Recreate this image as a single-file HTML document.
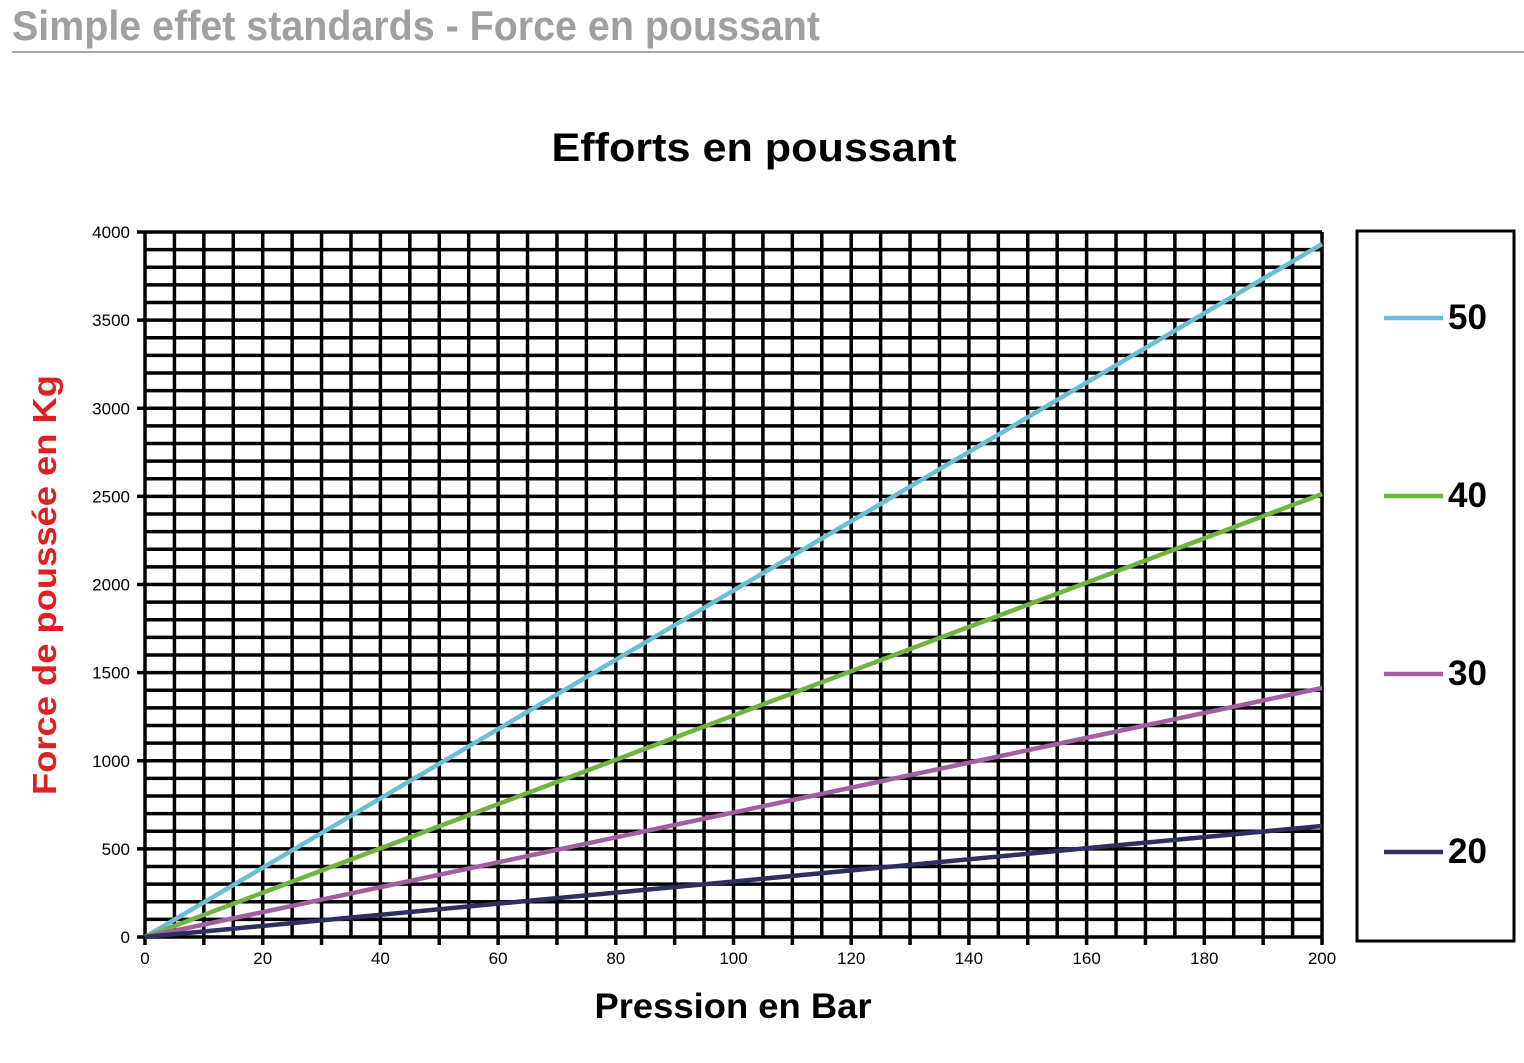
<!DOCTYPE html><html><head><meta charset="utf-8"><style>body{margin:0;background:#fff}svg{display:block}</style></head><body>
<svg width="1524" height="1063" xmlns="http://www.w3.org/2000/svg" font-family="Liberation Sans, Arial, sans-serif">
<text x="12" y="40" font-size="42" font-weight="bold" fill="#a0a0a0" textLength="808" lengthAdjust="spacingAndGlyphs">Simple effet standards - Force en poussant</text>
<line x1="12" y1="52" x2="1524" y2="52" stroke="#a8a8a8" stroke-width="2"/>
<text x="754" y="161" font-size="40" font-weight="bold" text-anchor="middle" textLength="405" lengthAdjust="spacingAndGlyphs">Efforts en poussant</text>
<g id="grid" stroke="#000" stroke-width="3.5"></g>
<g id="labels" font-size="17"></g>
<text transform="translate(56,585) rotate(-90)" font-size="33" font-weight="bold" fill="#e02020" text-anchor="middle" textLength="420" lengthAdjust="spacingAndGlyphs">Force de poussée en Kg</text>
<text x="733" y="1018" font-size="35" font-weight="bold" text-anchor="middle" textLength="277" lengthAdjust="spacingAndGlyphs">Pression en Bar</text>
<g stroke-width="4.5" fill="none">
<line x1="145" y1="937" x2="1322" y2="244" stroke="#6bbfd4"/>
<line x1="145" y1="937" x2="1322" y2="494" stroke="#6eb43f"/>
<line x1="145" y1="937" x2="1322" y2="688" stroke="#a35ea0"/>
<line x1="145" y1="937" x2="1322" y2="826" stroke="#2e2f5e"/>
</g>
<rect x="1357" y="231" width="157" height="710" fill="none" stroke="#000" stroke-width="3"/>
<g stroke-width="4.5">
<line x1="1384" y1="318" x2="1443" y2="318" stroke="#6bbfd4"/>
<line x1="1384" y1="496" x2="1443" y2="496" stroke="#6eb43f"/>
<line x1="1384" y1="674" x2="1443" y2="674" stroke="#a35ea0"/>
<line x1="1384" y1="852" x2="1443" y2="852" stroke="#2e2f5e"/>
</g>
<g font-size="35" font-weight="bold">
<text x="1448" y="329">50</text><text x="1448" y="507">40</text><text x="1448" y="685">30</text><text x="1448" y="863">20</text>
</g>
<script>
var g=document.getElementById('grid'),L=document.getElementById('labels'),ns='http://www.w3.org/2000/svg';
function ln(a,b,c,d){var l=document.createElementNS(ns,'line');l.setAttribute('x1',a);l.setAttribute('y1',b);l.setAttribute('x2',c);l.setAttribute('y2',d);g.appendChild(l);}
function tx(x,y,s,an){var t=document.createElementNS(ns,'text');t.setAttribute('x',x);t.setAttribute('y',y);t.setAttribute('text-anchor',an);t.textContent=s;L.appendChild(t);}
var x0=145,x1=1322,y0=937,y1=232;
for(var i=0;i<=40;i++){var x=x0+(x1-x0)*i/40;ln(x,y1,x,y0+(i%2==0?8:0));}
for(var j=0;j<=40;j++){var y=y0-(y0-y1)*j/40;ln(x0-(j%5==0?8:0),y,x1,y);}
for(var k=0;k<=10;k++){tx(x0+(x1-x0)*k/10,964,String(k*20),'middle');}
for(var m=0;m<=8;m++){tx(130,y0-(y0-y1)*m/8+6,String(m*500),'end');}
</script>
</svg>
</body></html>
